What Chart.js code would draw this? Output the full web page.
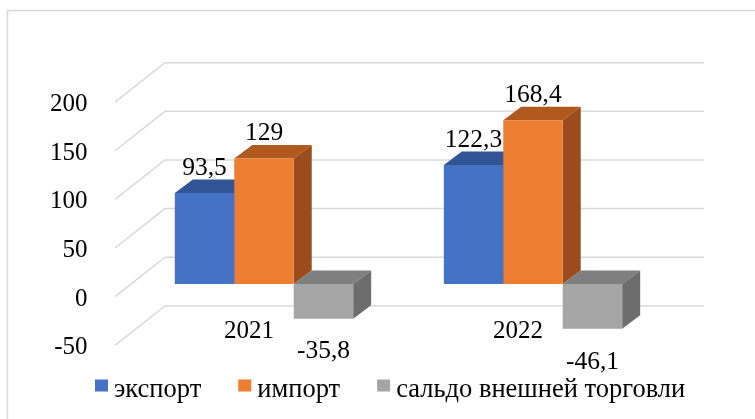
<!DOCTYPE html>
<html>
<head>
<meta charset="utf-8">
<script src="https://cdn.jsdelivr.net/npm/chart.js@4"></script>
<style>
    html, body { margin: 0; padding: 0; background: #fff; }
    #tradeChart { display: block; }
</style>
</head>
<body>
<canvas id="tradeChart" width="755" height="419"></canvas>
<script>
    // данные
    const years = ['2021', '2022'];
    const exportValues = [93.5, 122.3];
    const importValues = [129, 168.4];
    const saldoValues = [-35.8, -46.1];
    const seriesNames = ['экспорт', 'импорт', 'сальдо внешней торговли'];
    const yTicks = [-50, 0, 50, 100, 150, 200];

    const frontColors = ['#4472c4', '#ed7d31', '#a5a5a5'];
    const topColors = ['#305496', '#b0591f', '#7f7f7f'];
    const sideColors = ['#2a4a85', '#9a4c1c', '#6d6d6d'];

    const FONT = '"Liberation Serif"';
    const DX = 18, DY = -13.5;

    function fmt(v) {
        return String(v).replace('.', ',');
    }

    function poly(ctx, pts, color) {
        ctx.beginPath();
        ctx.moveTo(pts[0][0], pts[0][1]);
        for (let i = 1; i < pts.length; i++) ctx.lineTo(pts[i][0], pts[i][1]);
        ctx.closePath();
        ctx.fillStyle = color;
        ctx.fill();
    }

    const bars3d = {
        id: 'bars3d',
        afterLayout(chart) {
            // подписи годов стоят выше оси, не обрезать их
            chart.scales.x._computeLabelArea = () => null;
        },
        beforeDraw(chart) {
            const ctx = chart.ctx;
            ctx.save();
            ctx.strokeStyle = '#d9d9d9';
            ctx.lineWidth = 1.5;
            ctx.strokeRect(7.5, 10.5, 760, 420);
            ctx.restore();
        },
        beforeDatasetsDraw(chart) {
            const ctx = chart.ctx;
            const a = chart.chartArea;
            const ys = chart.scales.y;
            ctx.save();
            // сетка: диагональ + задняя стенка
            ctx.strokeStyle = '#d9d9d9';
            ctx.lineWidth = 1.5;
            ys.ticks.forEach(t => {
                const y = ys.getPixelForValue(t.value);
                ctx.beginPath();
                ctx.moveTo(a.left - 14.5, y + 12.7);
                ctx.lineTo(a.left + 35.5, y - 26.7);
                ctx.lineTo(a.right + 36.5, y - 26.7);
                ctx.stroke();
            });
            // верх и бок столбиков
            chart.data.datasets.forEach((ds, di) => {
                chart.getDatasetMeta(di).data.forEach(bar => {
                    const p = bar.getProps(['x', 'y', 'base', 'width']);
                    const l = p.x - p.width / 2, r = p.x + p.width / 2;
                    const top = Math.min(p.y, p.base), bottom = Math.max(p.y, p.base);
                    poly(ctx, [[l, top], [r, top], [r + DX, top + DY], [l + DX, top + DY]], topColors[di]);
                    poly(ctx, [[r, top], [r + DX, top + DY], [r + DX, bottom + DY], [r, bottom]], sideColors[di]);
                });
            });
            ctx.restore();
        },
        afterDatasetsDraw(chart) {
            const ctx = chart.ctx;
            ctx.save();
            ctx.font = '25.5px ' + FONT;
            ctx.fillStyle = '#000';
            ctx.textAlign = 'center';
            ctx.textBaseline = 'middle';
            chart.data.datasets.forEach((ds, di) => {
                chart.getDatasetMeta(di).data.forEach((bar, i) => {
                    const v = ds.data[i];
                    const y = v >= 0 ? bar.y - 25 : bar.y + 33;
                    ctx.fillText(fmt(v), bar.x, y);
                });
            });
            ctx.restore();
        },
        afterDraw(chart) {
            // легенда
            const ctx = chart.ctx;
            ctx.save();
            ctx.font = '26.5px ' + FONT;
            ctx.textBaseline = 'alphabetic';
            ctx.textAlign = 'left';
            let x = 95;
            chart.data.datasets.forEach((ds, di) => {
                ctx.fillStyle = frontColors[di];
                ctx.fillRect(x, 379.5, 13, 12);
                ctx.fillStyle = '#000';
                ctx.fillText(ds.label, x + 19, 396.5);
                x += 19 + ctx.measureText(ds.label).width + 37;
            });
            ctx.restore();
        }
    };

    const ctx = document.getElementById('tradeChart').getContext('2d');
    const values = [exportValues, importValues, saldoValues];

    new Chart(ctx, {
        type: 'bar',
        data: {
            labels: years,
            datasets: values.map((vals, i) => ({
                label: seriesNames[i],
                data: vals,
                backgroundColor: frontColors[i],
                borderWidth: 0,
                categoryPercentage: 0.663,
                barPercentage: 1
            }))
        },
        options: {
            responsive: false,
            animation: false,
            layout: {
                padding: { top: 89.4, left: 0, right: 87.5, bottom: 66.4 }
            },
            scales: {
                x: {
                    grid: { display: false },
                    border: { display: false },
                    ticks: {
                        padding: -24,
                        labelOffset: -15,
                        color: '#000',
                        font: { family: FONT, size: 25 }
                    },
                    afterFit: s => { s.height = 20; }
                },
                y: {
                    min: -50,
                    max: 200,
                    afterBuildTicks: s => { s.ticks = yTicks.map(v => ({ value: v })); },
                    grid: { display: false },
                    border: { display: false },
                    ticks: {
                        padding: 34,
                        labelOffset: 15,
                        color: '#000',
                        font: { family: FONT, size: 25 },
                        callback: v => String(v)
                    },
                    afterFit: s => { s.width = 129.5; }
                }
            },
            plugins: {
                legend: { display: false },
                tooltip: { enabled: false }
            }
        },
        plugins: [bars3d]
    });
</script>
</body>
</html>
